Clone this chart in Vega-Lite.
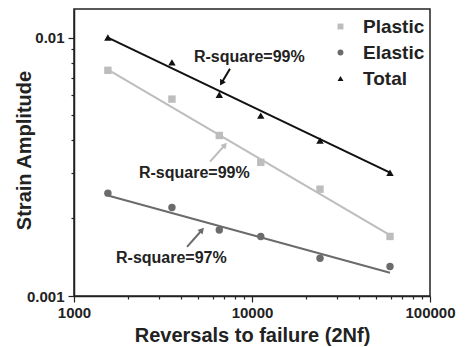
{
  "$schema": "https://vega.github.io/schema/vega-lite/v6.json",
  "autosize": "none",
  "padding": {"left": 74, "top": 9, "right": 35, "bottom": 51},
  "width": 356,
  "height": 287,
  "config": {
    "font": "Liberation Sans",
    "view": {"stroke": "#222", "strokeWidth": 1.5},
    "axis": {"domainColor": "#222", "domainWidth": 1.5, "tickColor": "#222", "tickWidth": 1.2, "labelFont": "Liberation Sans", "labelFontWeight": "bold", "labelFontSize": 15, "labelColor": "#222", "labelFlush": false, "titleFont": "Liberation Sans", "titleFontWeight": "bold", "titleFontSize": 20, "titleColor": "#222", "grid": false},
    "legend": {"labelFont": "Liberation Sans", "labelFontSize": 19, "labelFontWeight": "bold", "labelColor": "#222", "symbolSize": 35, "labelOffset": 13, "rowPadding": 6, "padding": 0}
  },
  "datasets": {
    "pts": [
      {"series": "Plastic", "x": 1550, "y": 0.00747},
      {"series": "Plastic", "x": 3550, "y": 0.00578},
      {"series": "Plastic", "x": 6550, "y": 0.00418},
      {"series": "Plastic", "x": 11200, "y": 0.00329},
      {"series": "Plastic", "x": 24100, "y": 0.00259},
      {"series": "Plastic", "x": 59600, "y": 0.0017},
      {"series": "Elastic", "x": 1550, "y": 0.0025},
      {"series": "Elastic", "x": 3550, "y": 0.0022},
      {"series": "Elastic", "x": 6550, "y": 0.0018},
      {"series": "Elastic", "x": 11200, "y": 0.0017},
      {"series": "Elastic", "x": 24100, "y": 0.0014},
      {"series": "Elastic", "x": 59600, "y": 0.0013},
      {"series": "Total", "x": 1550, "y": 0.0100},
      {"series": "Total", "x": 3550, "y": 0.00802},
      {"series": "Total", "x": 6550, "y": 0.00601},
      {"series": "Total", "x": 11200, "y": 0.00499},
      {"series": "Total", "x": 24100, "y": 0.0040},
      {"series": "Total", "x": 59600, "y": 0.0030}
    ],
    "fits": [
      {"series": "Total", "x": 1550, "y": 0.0100},
      {"series": "Total", "x": 59600, "y": 0.0030},
      {"series": "Plastic", "x": 1550, "y": 0.00752},
      {"series": "Plastic", "x": 59600, "y": 0.00172},
      {"series": "Elastic", "x": 1550, "y": 0.00245},
      {"series": "Elastic", "x": 59600, "y": 0.00123}
    ],
    "notes": [
      {"series": "Total", "label": "R-square=99%", "x": 4721, "y": 0.00844, "tx": 7520, "ty": 0.00758, "hx": 6741, "hy": 0.00667},
      {"series": "Plastic", "label": "R-square=99%", "x": 2318, "y": 0.0030, "tx": 5808, "ty": 0.00331, "hx": 7046, "hy": 0.00384},
      {"series": "Elastic", "label": "R-square=97%", "x": 1722, "y": 0.0014, "tx": 4315, "ty": 0.00155, "hx": 5236, "hy": 0.0018}
    ]
  },
  "layer": [
    {
      "data": {"name": "fits"},
      "mark": {"type": "line", "strokeWidth": 2},
      "encoding": {
        "x": {"field": "x", "type": "quantitative", "scale": {"type": "log", "domain": [1000, 100000], "nice": false, "padding": 0},
          "axis": {"title": "Reversals to failure (2Nf)", "values": [1000, 2000, 3000, 4000, 5000, 6000, 7000, 8000, 9000, 10000, 20000, 30000, 40000, 50000, 60000, 70000, 80000, 90000, 100000], "format": "d", "labelExpr": "datum.value == 1000 || datum.value == 10000 || datum.value == 100000 ? datum.label : ''", "tickSize": {"condition": {"test": "datum.value == 1000 || datum.value == 10000 || datum.value == 100000", "value": 6}, "value": 3}, "labelPadding": 3, "titleY": 39, "titleBaseline": "middle"}},
        "y": {"field": "y", "type": "quantitative", "scale": {"type": "log", "domain": [0.001, 0.0129], "nice": false, "padding": 0},
          "axis": {"title": "Strain Amplitude", "values": [0.001, 0.002, 0.003, 0.004, 0.005, 0.006, 0.007, 0.008, 0.009, 0.01], "format": ".3~f", "labelExpr": "datum.value == 0.001 || datum.value == 0.01 ? datum.label : ''", "tickSize": {"condition": {"test": "datum.value == 0.001 || datum.value == 0.01", "value": 6}, "value": 3}, "labelPadding": 4, "titleX": -50, "titleY": 141, "titleBaseline": "middle"}},
        "stroke": {"field": "series", "type": "nominal", "scale": {"domain": ["Total", "Plastic", "Elastic"], "range": ["#111111", "#bdbdbd", "#6b6b6b"]}, "legend": null},
        "detail": {"field": "series"}
      }
    },
    {
      "data": {"name": "pts"},
      "mark": {"type": "point", "filled": true, "opacity": 1, "strokeWidth": 0},
      "encoding": {
        "x": {"field": "x", "type": "quantitative"},
        "y": {"field": "y", "type": "quantitative"},
        "fill": {"field": "series", "type": "nominal", "scale": {"domain": ["Plastic", "Elastic", "Total"], "range": ["#bdbdbd", "#6b6b6b", "#111111"]}, "legend": {"title": null, "orient": "none", "legendX": 257, "legendY": 8, "labelFontSize": 19, "labelOffset": 13}},
        "shape": {"field": "series", "type": "nominal", "scale": {"domain": ["Plastic", "Elastic", "Total"], "range": ["square", "circle", "triangle-up"]}, "legend": {"title": null, "orient": "none", "legendX": 257, "legendY": 8, "labelFontSize": 19, "labelOffset": 13}},
        "size": {"value": 55}
      }
    },
    {
      "data": {"name": "notes"},
      "mark": {"type": "text", "align": "left", "baseline": "middle", "fontSize": 16, "fontWeight": "bold", "color": "#222"},
      "encoding": {
        "x": {"field": "x", "type": "quantitative"},
        "y": {"field": "y", "type": "quantitative"},
        "text": {"field": "label"}
      }
    },
    {
      "data": {"name": "notes"},
      "mark": {"type": "rule", "strokeWidth": 2},
      "encoding": {
        "x": {"field": "tx", "type": "quantitative"},
        "y": {"field": "ty", "type": "quantitative"},
        "x2": {"field": "hx"},
        "y2": {"field": "hy"},
        "stroke": {"field": "series", "type": "nominal", "legend": null}
      }
    },
    {
      "data": {"name": "notes"},
      "transform": [{"filter": "datum.series == 'Total'"}],
      "mark": {"type": "point", "shape": "triangle-up", "filled": true, "opacity": 1, "angle": 210, "size": 45, "color": "#111111"},
      "encoding": {
        "x": {"field": "hx", "type": "quantitative"},
        "y": {"field": "hy", "type": "quantitative"}
      }
    },
    {
      "data": {"name": "notes"},
      "transform": [{"filter": "datum.series == 'Plastic'"}],
      "mark": {"type": "point", "shape": "triangle-up", "filled": true, "opacity": 1, "angle": 42, "size": 45, "color": "#bdbdbd"},
      "encoding": {
        "x": {"field": "hx", "type": "quantitative"},
        "y": {"field": "hy", "type": "quantitative"}
      }
    },
    {
      "data": {"name": "notes"},
      "transform": [{"filter": "datum.series == 'Elastic'"}],
      "mark": {"type": "point", "shape": "triangle-up", "filled": true, "opacity": 1, "angle": 42, "size": 45, "color": "#6b6b6b"},
      "encoding": {
        "x": {"field": "hx", "type": "quantitative"},
        "y": {"field": "hy", "type": "quantitative"}
      }
    }
  ]
}
